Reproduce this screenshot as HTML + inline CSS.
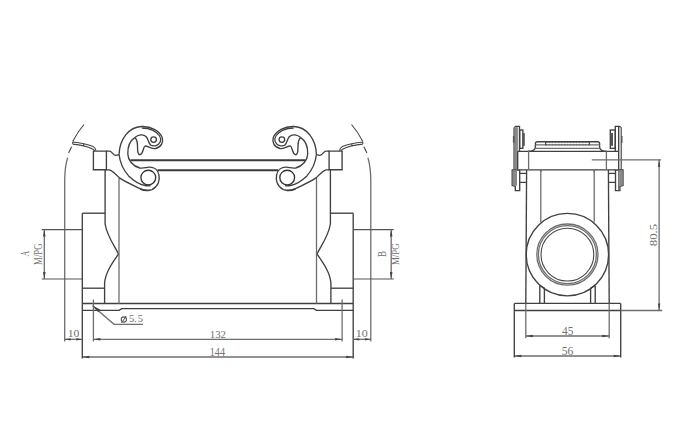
<!DOCTYPE html>
<html><head><meta charset="utf-8"><style>
html,body{margin:0;padding:0;background:#fff;}
svg{display:block;}
.d{fill:none;stroke:#404040;stroke-width:1.35;}
.dk{fill:none;stroke:#333;stroke-width:1.35;}
.t{fill:none;stroke:#444;stroke-width:1.1;}
.g{fill:none;stroke:#6e6e6e;stroke-width:1.3;}
.d2{fill:none;stroke:#484848;stroke-width:1.1;}
.dash{fill:none;stroke:#666;stroke-width:1;stroke-dasharray:2 1;}
.g2{fill:none;stroke:#555;stroke-width:1.1;}
.bar{fill:none;stroke:#3a3a3a;stroke-width:1.9;}
.arr{fill:#444;stroke:none;}
.hatch{fill:#888;stroke:none;}
.hatch2{fill:#bbb;stroke:none;}
.hk{fill:#555;stroke:none;}
text{font-family:"Liberation Serif",serif;fill:#707070;}
</style></head><body>
<svg width="680" height="440" viewBox="0 0 680 440">
<rect width="680" height="440" fill="#fff"/>
<path d="M130.4,160.2 H305.1" class="bar"/><path d="M157.5,170.3 H278" class="bar"/><path d="M82.3,303.5 H353.2" class="d"/><path d="M82.3,310.4 H119.1 L121.6,308.6 H313.9 L316.4,310.4 H353.2" class="d"/><path d="M93.4,339.3 H342.1" class="g"/><path d="M82.3,357 H353.2" class="g"/><g id="fh"><path d="M84,124.5 Q77.5,132 72.7,141.6" class="t"/><path d="M71.6,146.8 L68.6,153" class="t"/><path d="M67.6,157.7 C66,163 64.8,170 64.7,180 L64.7,341.6" class="g"/><path d="M72.7,142 C80,142.6 86,143.5 93.2,146.6 C94.5,147.4 95.6,148.8 96,150.6 M72.7,144.1 C80,144.8 86,145.8 92.5,148.9 C93.5,149.5 94.2,150.2 94.6,151 M72.7,142 L72.7,144.1 M83.6,143.4 L83.6,145.7" class="t"/><path d="M93.4,151.1 H106.4 V169.7 H93.4 Z" class="d"/><path d="M82.3,213.2 V358.6" class="d"/><path d="M82.3,213.2 H105" class="d"/><path d="M82.3,288.2 H104.5" class="d"/><path d="M105.1,169.7 V224 C107,236 114,245 118.5,254 C113,262 105.5,272 104.6,283 V303.5" class="d"/><path d="M119.0,177.9 V303.5" class="g"/><path d="M106.4,151.1 H109.8 C112,151.5 113,155 115.5,155.3 C117,155.4 118.3,154.8 119.1,154.5" class="d"/><path d="M119.1,154.5 C119.5,139 129,127 141.4,126.5 C151,126 159.5,131 162.2,137.5 C163.6,142 161.5,147 155.5,148.5 C150.5,149.4 147.5,145.5 145.2,146 C142.8,147 143.6,153.6 140.1,154.7 C137.4,155 137.6,150 137.5,146 C137.4,141.5 136.6,138.8 134.8,137.6" class="d"/><path d="M134.8,137.6 C138,134.8 143,133.6 146.3,136.7 C148.3,139 148.4,143 150.6,145 C153.5,147 158.6,145.6 160.3,141.8 C161.6,138 159,133.5 153,130.4 C149,128.5 145,128 141.8,128" class="d"/><circle cx="153.6" cy="139.6" r="2.8" class="d"/><path d="M134.8,137.6 C129.5,141 127.6,148 127.8,154 C128,160 132.5,166 139.8,168 C143,168.6 146,167.4 149,167.2 C154,167 158,170 158.9,175 C160,180 158.5,186.5 152,189.6 C148,191 144,190.6 140,189" class="d"/><path d="M119.1,154.5 C120,163 122.5,169 128.6,175.9 C134,181 140,184.5 145,185.5 C147,186 149,186 150.5,185.6" class="d"/><path d="M106.4,169.8 H109.5 C112,170.3 114,172.3 119.5,177.9 C124,181 128,183 138.2,187.8 C142,189.6 145,190.4 148.5,190.5" class="d"/><circle cx="148.3" cy="177.6" r="7.4" class="dk"/><path d="M41.8,229.6 H82.3 M41.8,279 H82.3" class="g2"/><path d="M44.3,229.6 V279" class="g"/><path d="M44.3,229.6 l-1.3,7 h2.6 z M44.3,279 l-1.3,-7 h2.6 z" class="arr"/><path d="M93.4,299.5 V341.6" class="g"/><path d="M64.7,339.3 H82.3" class="g"/><path d="M64.7,339.3 l6,-1.1 v2.2 z M82.3,339.3 l-6,-1.1 v2.2 z" class="arr"/><path d="M93.4,339.3 l7,-1.2 v2.4 z" class="arr"/><path d="M82.3,357 l7,-1.2 v2.4 z" class="arr"/></g><use href="#fh" transform="translate(435.5,0) scale(-1,1)"/><path d="M92.6,305.8 L114,324.3 H143" class="g"/><path d="M92.4,305.6 L100.5,309.8 L98.2,312.2 Z" class="arr"/><path d="M517.7,151.3 H618.7 M519.7,169.9 H615.5" class="d"/><path d="M528,151.3 C532,151.3 535.4,150 535.4,147 V143.6 Q535.4,141.7 537.4,141.7 H597.6 Q599.6,141.7 599.6,143.6 V147 C599.6,150 603,151.3 607,151.3" class="d"/><path d="M535.4,144.9 H599.6 M535.4,148.4 H599.6" class="g"/><path d="M545.6,142.6 H589.4 M545.6,144.9 H589.4" class="dash"/><path d="M514.3,303.4 H620.7 M514.3,310.5 H620.7" class="d"/><path d="M525.8,336 H609.2" class="g"/><path d="M514.3,356 H620.7" class="g"/><g id="sh"><path d="M528.6,151.2 V169.6" class="g"/><path d="M519.7,173.3 H526.6 M519.7,182.4 H526.6" class="d"/><path d="M526.6,169.9 L525.8,303.4" class="d"/><path d="M540.8,169.6 V222.5" class="g"/><path d="M545.6,141.7 V145.2" class="d2"/><path d="M540.9,169.6 V172" class="g"/><path d="M539.8,285.5 V303.4 M539.8,285.5 L544.4,288.2 V303.4" class="d"/><path d="M514.3,303.4 V357.5" class="d"/><path d="M525.8,303.4 V338.2" class="g"/><path d="M525.8,336 l7,-1.2 v2.4 z" class="arr"/><path d="M514.3,356 l7,-1.2 v2.4 z" class="arr"/></g><use href="#sh" transform="translate(1135,0) scale(-1,1)"/><path d="M514.1,169.5 V128 L515.6,126.4 H519.5 V151.3" class="d"/><rect x="514.3" y="127.2" width="3.6" height="42.3" class="hatch"/><path d="M517.7,151.3 V169.5" class="d"/><rect x="512.9" y="135.9" width="1.6" height="6.8" class="hk"/><rect x="519.7" y="130" width="3.2" height="18.3" class="d"/><rect x="522.6" y="133" width="2.2" height="12.9" class="hk"/><path d="M512.2,170 H519.7 V190.6 H515.3 V186.3 L512.2,185.5 Z" class="d"/><rect x="512.6" y="170.4" width="4.4" height="15.2" class="hatch"/><path d="M615.3,151.3 V126.4 H619.6 L621.1,127.8 V170" class="d"/><path d="M618.7,126.8 V170" class="d"/><rect x="619" y="127.5" width="2" height="42" class="hatch2"/><rect x="621.1" y="136" width="1.4" height="7" class="hk"/><rect x="610.3" y="130" width="5" height="18.3" class="d"/><rect x="610.5" y="133" width="2.5" height="12.9" class="hk"/><path d="M615.5,170 H623 V185.5 L619.9,186.3 V190.6 H615.5 Z" class="d"/><path d="M618.7,170 V190.6" class="g"/><rect x="619.2" y="170.4" width="3.5" height="15.2" class="hatch"/><circle cx="567.4" cy="254.6" r="41.2" class="d"/><circle cx="567.4" cy="254.6" r="30.6" class="g"/><circle cx="567.4" cy="254.6" r="29" class="g"/><circle cx="567.4" cy="254.6" r="26.4" class="d2"/><path d="M591.8,159.8 H661 M620.7,310.5 H662.3" class="g"/><path d="M659.1,159.8 V310.5" class="g"/><path d="M659.1,159.8 l-1.2,7 h2.4 z M659.1,310.5 l-1.2,-7 h2.4 z" class="arr"/><text transform="translate(209.71,338.4) scale(0.956,1)" font-size="11.38">132</text><text transform="translate(209.79,356.1) scale(0.853,1)" font-size="11.85">144</text><text transform="translate(67.63,337.0) scale(1.166,1)" font-size="10.0">10</text><text transform="translate(355.8,337.0) scale(1.2,1)" font-size="10.0">10</text><text transform="translate(562.02,335.4) scale(0.947,1)" font-size="12.0">45</text><text transform="translate(561.72,355.2) scale(0.917,1)" font-size="12.62">56</text><text transform="translate(28.9,256.4) rotate(-90) scale(0.663,1)" font-size="11.85">A</text><text transform="translate(41.9,264.92) rotate(-90) scale(0.743,1)" font-size="11.85">M/PG</text><text transform="translate(385.9,257.12) rotate(-90) scale(0.77,1)" font-size="11.69">B</text><text transform="translate(398.7,265.12) rotate(-90) scale(0.791,1)" font-size="11.23">M/PG</text><text transform="translate(657.3,246.22) rotate(-90) scale(1.138,1)" font-size="11.23">80.5</text><circle cx="123.85" cy="319.5" r="2.6" fill="none" stroke="#555" stroke-width="1.1"/><path d="M126.2,316 L121.5,323" stroke="#555" stroke-width="1" fill="none"/><text x="128.9" y="322.4" font-size="10.5">5</text><text x="134.0" y="322.4" font-size="10.5">.</text><text x="137.8" y="322.4" font-size="10.5">5</text>
</svg></body></html>
